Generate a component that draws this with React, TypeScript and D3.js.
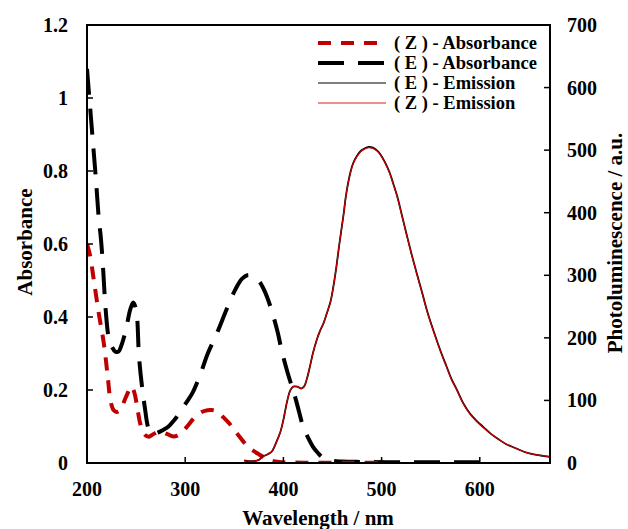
import React from "react";
import * as d3 from "d3";

// Wavelength (nm) and values
const eAbsNm = [200, 203, 206, 209, 212, 214, 216, 219, 222, 225, 229, 232, 236, 240, 244, 247, 250, 253, 256, 259, 262, 265, 268, 272, 277, 283, 289, 295, 301, 307, 315, 323, 333, 342, 351, 358, 364, 370, 376, 381, 386, 390, 394, 399, 404, 408, 411, 416, 420, 425, 430, 435, 440, 450, 460, 480, 520, 560, 600];
const eAbsVal = [1.08, 0.98, 0.88, 0.78, 0.67, 0.62, 0.55, 0.42, 0.345, 0.32, 0.305, 0.305, 0.33, 0.37, 0.42, 0.44, 0.42, 0.29, 0.21, 0.15, 0.1, 0.083, 0.08, 0.083, 0.09, 0.1, 0.118, 0.14, 0.165, 0.19, 0.24, 0.3, 0.36, 0.42, 0.475, 0.505, 0.515, 0.51, 0.495, 0.47, 0.435, 0.4, 0.36, 0.3, 0.25, 0.215, 0.19, 0.14, 0.1, 0.07, 0.045, 0.028, 0.015, 0.006, 0.004, 0.003, 0.002, 0.002, 0.002];

const zAbsNm = [200, 203, 207, 212, 217, 221, 224, 227, 230, 234, 238, 242, 245, 248, 251, 254, 257, 260, 263, 267, 272, 277, 282, 287, 292, 297, 302, 308, 314, 320, 327, 333, 339, 345, 350, 356, 362, 368, 375, 383, 390, 400, 420, 450, 500];
const zAbsVal = [0.6, 0.57, 0.5, 0.41, 0.33, 0.24, 0.17, 0.145, 0.14, 0.145, 0.17, 0.195, 0.21, 0.195, 0.155, 0.11, 0.085, 0.075, 0.072, 0.078, 0.085, 0.084, 0.079, 0.073, 0.075, 0.085, 0.1, 0.12, 0.135, 0.143, 0.145, 0.14, 0.125, 0.108, 0.09, 0.07, 0.05, 0.036, 0.024, 0.012, 0.005, 0.002, 0.001, 0.001, 0.001];

const emNm = [360, 365, 370, 375, 379, 384, 388, 393, 397, 400, 402, 404, 407, 410, 414, 418, 421, 424, 427, 430, 434, 437, 441, 444, 448, 451, 454, 457, 461, 464, 468, 471, 475, 479, 483, 487, 491, 495, 498, 503, 508, 512, 516, 521, 526, 531, 536, 541, 546, 551, 556, 561, 566, 571, 577, 583, 590, 597, 604, 611, 619, 627, 636, 645, 654, 662, 671];
const eEmVal = [4, 3, 3, 5, 10, 14, 18, 34, 50, 69, 85, 100, 116, 122, 122, 119, 122, 135, 154, 175, 197, 210, 224, 238, 258, 283, 314, 350, 394, 430, 463, 479, 491, 499, 503, 505, 504, 500, 495, 482, 465, 446, 426, 394, 362, 331, 302, 274, 245, 220, 197, 175, 155, 135, 116, 96, 79, 67, 57, 47, 38, 30, 24, 18, 14, 12, 10];
const zEmVal = [4, 3, 3, 5, 10, 14, 18, 34, 50, 69, 85, 100, 116, 122, 122, 119, 122, 135, 154, 175, 197, 210, 224, 238, 258, 283, 314, 350, 394, 430, 462, 478, 490, 498, 502, 504, 503, 499, 494, 481, 464, 445, 425, 393, 361, 330, 301, 273, 244, 219, 196, 174, 154, 134, 115, 95, 78, 66, 56, 47, 38, 30, 24, 18, 14, 12, 10];

const xTicks = [200, 300, 400, 500, 600];
const yLeftTicks = [0, 0.2, 0.4, 0.6, 0.8, 1, 1.2];
const yRightTicks = [0, 100, 200, 300, 400, 500, 600, 700];
const legendLabels = ["( Z ) - Absorbance", "( E ) - Absorbance", "( E ) - Emission", "( Z ) - Emission"];

const W = 628;
const H = 529;
const L = 87, R = 550, T = 25, B = 463;
const RED = "#c00000";
const FONT = "'Liberation Serif', 'Times New Roman', serif";

export default function App() {
  const x = d3.scaleLinear().domain([200, 671.5]).range([L, R]);
  const yL = d3.scaleLinear().domain([0, 1.2]).range([B, T]);
  const yR = d3.scaleLinear().domain([0, 700]).range([B, T]);

  const mk = (xs: number[], ys: number[], y: d3.ScaleLinear<number, number>) =>
    d3
      .line<number>()
      .x((_, i) => x(xs[i]))
      .y((v) => y(v))
      .curve(d3.curveCatmullRom.alpha(0.5))(ys) || "";

  const eAbsPath = mk(eAbsNm, eAbsVal, yL);
  const zAbsPath = mk(zAbsNm, zAbsVal, yL);
  const eEmPath = mk(emNm, eEmVal, yR);
  const zEmPath = mk(emNm, zEmVal, yR);

  const legendStyles = [
    { stroke: RED, dash: "13,10", w: 4 },
    { stroke: "#000", dash: "26,14", w: 4 },
    { stroke: "#000", dash: "", w: 1.2 },
    { stroke: "#d42020", dash: "", w: 1.2 },
  ];

  return (
    <svg
      width={W}
      height={H}
      style={{ position: "absolute", left: 0, top: 0, background: "#fff" }}
      fontFamily={FONT}
      fontWeight="bold"
    >
      <rect x={0} y={0} width={W} height={H} fill="#fff" />
      <defs>
        <clipPath id="plotclip">
          <rect x={L} y={T - 5} width={R - L} height={B - T + 5} />
        </clipPath>
      </defs>

      <g clipPath="url(#plotclip)">
        <path d={eAbsPath} fill="none" stroke="#000" strokeWidth={4} strokeDasharray="26,14" />
        <path d={zAbsPath} fill="none" stroke={RED} strokeWidth={4} strokeDasharray="13,10" />
        <path d={eEmPath} fill="none" stroke="#000" strokeWidth={1.8} />
        <path d={zEmPath} fill="none" stroke="#cc0000" strokeWidth={1.2} />
      </g>

      {/* frame */}
      <rect x={L} y={T} width={R - L} height={B - T} fill="none" stroke="#000" strokeWidth={2} />

      {/* x ticks */}
      {xTicks.map((t) => (
        <g key={"x" + t}>
          <line x1={x(t)} x2={x(t)} y1={B} y2={B - 6} stroke="#000" strokeWidth={1.5} />
          <text x={x(t)} y={496} textAnchor="middle" fontSize={20}>
            {t}
          </text>
        </g>
      ))}

      {/* left ticks */}
      {yLeftTicks.map((t) => (
        <g key={"yl" + t}>
          <line x1={L} x2={L + 6} y1={yL(t)} y2={yL(t)} stroke="#000" strokeWidth={1.5} />
          <text x={68} y={yL(t) + 7} textAnchor="end" fontSize={20}>
            {d3.format("~g")(t)}
          </text>
        </g>
      ))}

      {/* right ticks */}
      {yRightTicks.map((t) => (
        <g key={"yr" + t}>
          <line x1={R - 6} x2={R} y1={yR(t)} y2={yR(t)} stroke="#000" strokeWidth={1.5} />
          <text x={567} y={yR(t) + 7} textAnchor="start" fontSize={20}>
            {t}
          </text>
        </g>
      ))}

      {/* axis titles */}
      <text x={318} y={525} textAnchor="middle" fontSize={21}>
        Wavelength / nm
      </text>
      <text transform="translate(32,242) rotate(-90)" textAnchor="middle" fontSize={21}>
        Absorbance
      </text>
      <text transform="translate(622,243) rotate(-90)" textAnchor="middle" fontSize={21}>
        Photoluminescence / a.u.
      </text>

      {/* legend */}
      {legendLabels.map((lab, i) => {
        const cy = 43 + i * 20;
        const s = legendStyles[i];
        return (
          <g key={lab}>
            <line
              x1={318}
              x2={386}
              y1={cy}
              y2={cy}
              stroke={s.stroke}
              strokeWidth={s.w}
              strokeDasharray={s.dash || undefined}
            />
            <text x={394} y={cy + 6} fontSize={18.5}>
              {lab}
            </text>
          </g>
        );
      })}
    </svg>
  );
}
